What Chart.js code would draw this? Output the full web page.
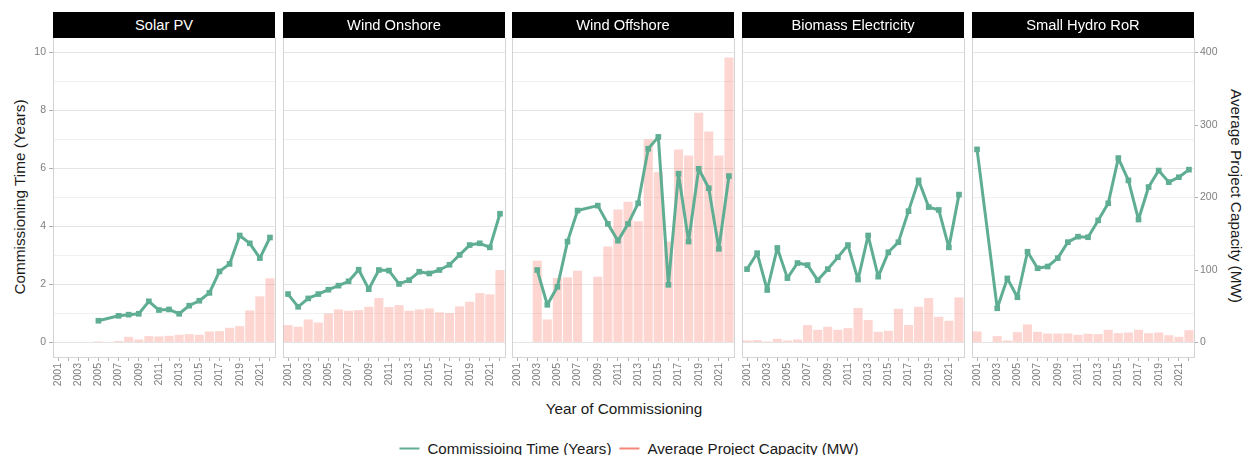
<!DOCTYPE html>
<html>
<head>
<meta charset="utf-8">
<script src="https://cdn.jsdelivr.net/npm/chart.js@4.4.1/dist/chart.umd.min.js"></script>
<style>
  body { margin: 0; width: 1246px; height: 455px; background: #fff; position: relative; overflow: hidden;
         font-family: 'Liberation Sans', Arial, sans-serif; }
  canvas { position: absolute; top: 12px; }
  .strip { position: absolute; top: 12px; height: 26px; width: 222px; background: #000; color: #fff;
           font-size: 14.7px; line-height: 26px; text-align: center; z-index: 2; }
  .title { position: absolute; white-space: nowrap; color: #1a1a1a; font-size: 15.3px; transform: translate(-50%, -50%); }
  #legend { position: absolute; left: 629px; top: 448px; transform: translate(-50%, -50%); display: flex; align-items: center;
            white-space: nowrap; font-size: 15.1px; color: #1a1a1a; }
  .swatch { display: inline-block; width: 20px; height: 2px; margin-right: 8px; }
</style>
</head>
<body>
<div class="title" style="left:20px; top:197px; transform: translate(-50%, -50%) rotate(-90deg);">Commissioning Time (Years)</div>
<div class="title" style="left:1236px; top:196px; transform: translate(-50%, -50%) rotate(90deg);">Average Project Capacity (MW)</div>
<div class="title" style="left:624px; top:409px;">Year of Commissioning</div>
<div id="legend">
  <span class="swatch" style="background:#5fae94"></span><span style="margin-right:8px">Commissioing Time (Years)</span>
  <span class="swatch" style="background:#f4877a"></span><span>Average Project Capacity (MW)</span>
</div>
<script>
const years = ['2001', '2002', '2003', '2004', '2005', '2006', '2007', '2008', '2009', '2010', '2011',
               '2012', '2013', '2014', '2015', '2016', '2017', '2018', '2019', '2020', '2021', '2022'];
const technologies = ['Solar PV', 'Wind Onshore', 'Wind Offshore', 'Biomass Electricity', 'Small Hydro RoR'];

// commissioning time in years, average capacity in MW (null = no projects that year)
const solarTime = [null, null, null, null, 0.75, null, 0.92, 0.96, 0.99, 1.42, 1.12, 1.14, 0.99, 1.27, 1.44, 1.71, 2.45, 2.71, 3.69, 3.42, 2.91, 3.62];
const solarCapacity = [null, null, null, null, 1.4, null, 2, 7.8, 4.1, 8.8, 8.3, 9.2, 10.6, 11.5, 10.6, 15.2, 15.7, 20.3, 22.6, 44.2, 63.6, 88.5];

const onshoreTime = [1.67, 1.23, 1.52, 1.67, 1.82, 1.96, 2.11, 2.51, 1.84, 2.50, 2.48, 2.02, 2.15, 2.44, 2.38, 2.50, 2.68, 3.02, 3.36, 3.42, 3.28, 4.44];
const onshoreCapacity = [24, 21.7, 31.8, 27.6, 40, 45.6, 43.8, 44.7, 49.3, 61.3, 48.8, 51.6, 43.8, 45.6, 47, 41.5, 40.6, 49.8, 56.2, 68.2, 66.4, 100];

const offshoreTime = [null, null, 2.50, 1.30, 1.92, 3.48, 4.55, null, 4.72, 4.09, 3.51, 4.09, 4.80, 6.68, 7.09, 1.99, 5.82, 3.48, 5.99, 5.32, 3.23, 5.74];
const offshoreCapacity = [null, null, 112.9, 31.8, 88.9, 89.9, 99, null, 90.8, 132.3, 183.4, 194, 167.3, 280.2, 235, 139.2, 266.3, 258, 317, 291.2, 258, 393];

const biomassTime = [2.53, 3.08, 1.81, 3.26, 2.22, 2.74, 2.67, 2.15, 2.53, 2.94, 3.36, 2.17, 3.69, 2.27, 3.11, 3.46, 4.53, 5.59, 4.67, 4.57, 3.28, 5.10];
const biomassCapacity = [2.8, 3.2, 1.4, 5.1, 2.8, 4.1, 24, 17.5, 21.7, 17.5, 19.8, 47.5, 30.9, 14.7, 16.1, 46.5, 24, 49.3, 61.3, 35.5, 30, 62.2];

const hydroTime = [6.66, null, 1.18, 2.21, 1.56, 3.13, 2.56, 2.62, 2.91, 3.46, 3.65, 3.63, 4.21, 4.80, 6.36, 5.59, 4.24, 5.36, 5.93, 5.53, 5.70, 5.96];
const hydroCapacity = [15.2, null, 8.8, 2.8, 14.3, 24.9, 14.7, 12.4, 12.4, 12.4, 10.6, 12, 11.5, 17.5, 12.9, 13.8, 17.5, 12.9, 13.8, 10.1, 7.8, 17];

const timeGrid = [0, 1, 2, 3, 4, 5, 6, 7, 8, 9, 10];
const capacityTicks = [0, 100, 200, 300, 400];

const timeSeries = [solarTime, onshoreTime, offshoreTime, biomassTime, hydroTime];
const capacitySeries = [solarCapacity, onshoreCapacity, offshoreCapacity, biomassCapacity, hydroCapacity];

const panelLefts = [53, 283, 512, 742, 972];
const PANEL_W = 222;
const STRIP_H = 26;
const CANVAS_H = 388;
const XAXIS_H = 43;

const lineColor = '#5fae94';
const barColor = 'rgba(250, 128, 114, 0.33)';
const tickFont = { family: "'Liberation Sans', Arial, sans-serif", size: 10.5 };
const tickText = '#7f7f7f';

technologies.forEach((name, i) => {
  const leftAxisW = i === 0 ? 53 : 0;
  const rightAxisW = i === 4 ? 40 : 0;
  const padRight = i === 4 ? 0 : 15;

  const strip = document.createElement('div');
  strip.className = 'strip';
  strip.style.left = panelLefts[i] + 'px';
  strip.textContent = name;
  document.body.appendChild(strip);

  const canvas = document.createElement('canvas');
  canvas.width = leftAxisW + PANEL_W + rightAxisW + padRight;
  canvas.height = CANVAS_H;
  canvas.style.left = (panelLefts[i] - leftAxisW) + 'px';
  document.body.appendChild(canvas);

  new Chart(canvas, {
    type: 'bar',
    data: {
      labels: years,
      datasets: [
        {
          type: 'line',
          label: 'Commissioing Time (Years)',
          data: timeSeries[i],
          yAxisID: 'y',
          borderColor: lineColor,
          backgroundColor: lineColor,
          borderWidth: 3,
          borderJoinStyle: 'round',
          borderCapStyle: 'round',
          pointStyle: 'rect',
          pointRadius: 4,
          pointBorderWidth: 0,
          spanGaps: true,
          order: 0
        },
        {
          type: 'bar',
          label: 'Average Project Capacity (MW)',
          data: capacitySeries[i],
          yAxisID: 'y1',
          backgroundColor: barColor,
          barPercentage: 0.9,
          categoryPercentage: 1,
          order: 1
        }
      ]
    },
    options: {
      responsive: false,
      animation: false,
      layout: { autoPadding: false, padding: { top: STRIP_H, right: padRight, left: 0, bottom: 0 } },
      plugins: { legend: { display: false }, tooltip: { enabled: false } },
      scales: {
        x: {
          grid: { offset: false, drawOnChartArea: false, drawTicks: true, tickLength: 4, color: '#b0b0b0' },
          border: { display: true, color: '#d4d4d4' },
          ticks: {
            autoSkip: false, minRotation: 90, maxRotation: 90, padding: 2,
            color: tickText, font: tickFont,
            callback: function (v, idx) { return idx % 2 === 0 ? this.getLabelForValue(v) : ''; }
          },
          afterFit: s => { s.height = XAXIS_H; }
        },
        y: {
          position: 'left',
          min: -0.5,
          max: 10.5,
          afterBuildTicks: s => { s.ticks = timeGrid.map(v => ({ value: v })); },
          grid: {
            color: c => (c.tick && c.tick.value % 2 === 0) ? '#e4e4e4' : '#f1f1f1',
            drawTicks: i === 0,
            tickLength: 4,
            tickColor: c => (c.tick && c.tick.value % 2 === 0) ? '#b0b0b0' : 'rgba(0,0,0,0)'
          },
          border: { display: true, color: '#d4d4d4' },
          ticks: {
            display: i === 0, padding: 3, color: tickText, font: tickFont,
            callback: v => v % 2 === 0 ? String(v) : ''
          },
          afterFit: s => { s.width = leftAxisW; }
        },
        y1: {
          position: 'right',
          min: -20,
          max: 420,
          afterBuildTicks: s => { s.ticks = capacityTicks.map(v => ({ value: v })); },
          grid: { drawOnChartArea: false, drawTicks: i === 4, tickLength: 4, color: '#b0b0b0' },
          border: { display: true, color: '#d4d4d4' },
          ticks: { display: i === 4, padding: 2, color: tickText, font: tickFont },
          afterFit: s => { s.width = rightAxisW; }
        }
      }
    }
  });
});
</script>
</body>
</html>
